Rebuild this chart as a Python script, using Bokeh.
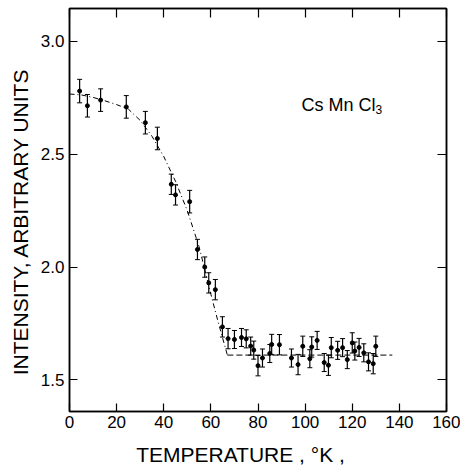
from bokeh.plotting import figure
from bokeh.models import (ColumnDataSource, Whisker, TeeHead, LinearAxis,
                          FixedTicker, Label, Range1d)
from bokeh.embed import file_html
from bokeh.resources import INLINE

# ---- data ----
temperature = [4.3, 7.6, 13.2, 24.1, 32.2, 37.3, 43.2, 45.0, 51.0, 54.3,
               57.4, 59.1, 61.9, 64.9, 67.3, 70.0, 73.0, 75.0, 76.9, 78.2,
               80.0, 81.9, 85.0, 85.8, 89.1, 94.2, 97.0, 99.0, 102.0, 102.8,
               105.1, 108.1, 109.9, 111.1, 113.8, 115.9, 117.9, 120.0, 121.1,
               122.9, 124.9, 126.9, 128.9, 130.0]
intensity = [2.78, 2.715, 2.74, 2.71, 2.64, 2.57, 2.367, 2.32, 2.29, 2.078,
             2.0, 1.93, 1.90, 1.735, 1.683, 1.679, 1.688, 1.682, 1.65, 1.632,
             1.563, 1.597, 1.617, 1.657, 1.656, 1.597, 1.568, 1.649, 1.594, 1.646,
             1.675, 1.577, 1.565, 1.643, 1.631, 1.643, 1.59, 1.664, 1.628,
             1.644, 1.62, 1.58, 1.572, 1.649]
error = [0.052, 0.05, 0.05, 0.05, 0.05, 0.05, 0.045, 0.045, 0.05, 0.045,
         0.045, 0.045, 0.045, 0.045, 0.045, 0.04, 0.04, 0.04, 0.04, 0.04,
         0.045, 0.04, 0.04, 0.045, 0.045, 0.04, 0.045, 0.045, 0.04, 0.045,
         0.04, 0.04, 0.045, 0.045, 0.04, 0.04, 0.04, 0.045, 0.04,
         0.04, 0.04, 0.04, 0.045, 0.045]

fit_T = [0, 5, 10, 15, 20, 25, 30, 35, 40, 45, 50, 55, 60, 63, 67]
fit_I = [2.767, 2.763, 2.752, 2.737, 2.72, 2.70, 2.65, 2.58, 2.49, 2.38,
         2.25, 2.09, 1.88, 1.76, 1.61]
flat_T = [67, 137]
flat_I = [1.61, 1.61]

x_ticks = [0, 20, 40, 60, 80, 100, 120, 140, 160]
y_ticks = [1.5, 2.0, 2.5, 3.0]
y_tick_labels = ["1.5", "2.0", "2.5", "3.0"]

label_font = "Liberation Sans"
NB = "\u00a0"

p = figure(width=460, height=470, x_range=Range1d(0, 160),
           y_range=Range1d(1.36, 3.146), output_backend="svg",
           toolbar_location=None, min_border_left=69, min_border_right=14,
           min_border_top=8, min_border_bottom=59)

p.xgrid.visible = False
p.ygrid.visible = False
p.outline_line_color = "black"
p.outline_line_width = 1.5

for ax in (p.xaxis[0], p.yaxis[0]):
    ax.major_tick_in = 8
    ax.major_tick_out = 0
    ax.minor_tick_line_color = None
    ax.axis_line_width = 1.5
    ax.major_tick_line_width = 1.2
    ax.major_label_text_font = label_font
    ax.major_label_text_font_size = "17px"
    ax.major_label_text_color = "black"
    ax.axis_label_text_font = label_font
    ax.axis_label_text_font_size = "21px"
    ax.axis_label_text_font_style = "normal"
    ax.axis_label_text_color = "black"

p.xaxis.ticker = FixedTicker(ticks=x_ticks)
p.yaxis.ticker = FixedTicker(ticks=y_ticks)
p.yaxis.major_label_overrides = dict(zip(y_ticks, y_tick_labels))
p.xaxis.axis_label = "TEMPERATURE , \u00b0K ," + NB * 6
p.yaxis.axis_label = "INTENSITY, ARBITRARY UNITS" + NB * 4
p.xaxis.major_label_standoff = 4
p.xaxis.axis_label_standoff = 12
p.yaxis.major_label_standoff = 5
p.yaxis.axis_label_standoff = 6

top = LinearAxis(ticker=FixedTicker(ticks=x_ticks), major_tick_in=9,
                 major_tick_out=0, minor_tick_line_color=None,
                 major_label_overrides={t: "" for t in x_ticks},
                 major_label_text_font_size="1px", major_label_standoff=0,
                 axis_line_width=1.5, major_tick_line_width=1.2)
right = LinearAxis(ticker=FixedTicker(ticks=y_ticks), major_tick_in=9,
                   major_tick_out=0, minor_tick_line_color=None,
                   major_label_overrides={t: "" for t in y_ticks},
                   major_label_text_font_size="1px", major_label_standoff=0,
                   axis_line_width=1.5, major_tick_line_width=1.2)
p.add_layout(top, "above")
p.add_layout(right, "right")

src = ColumnDataSource(dict(
    T=temperature, I=intensity,
    upper=[i + e for i, e in zip(intensity, error)],
    lower=[i - e for i, e in zip(intensity, error)],
))

p.line(fit_T, fit_I, line_color="black", line_width=1, line_dash="5 3 1 3")
p.line(flat_T, flat_I, line_color="black", line_width=1, line_dash="6 3")

p.add_layout(Whisker(source=src, base="T", upper="upper", lower="lower",
                     line_color="black", line_width=1.2,
                     upper_head=TeeHead(size=5, line_color="black", line_width=1),
                     lower_head=TeeHead(size=5, line_color="black", line_width=1)))
p.scatter("T", "I", source=src, size=4, color="black")

p.add_layout(Label(x=98.5, y=2.718, text="Cs Mn Cl", text_font=label_font,
                   text_font_size="18px", text_color="black",
                   text_baseline="alphabetic"))
p.add_layout(Label(x=98.5, y=2.718, x_offset=74, y_offset=-4, text="3",
                   text_font=label_font, text_font_size="12px",
                   text_color="black", text_baseline="alphabetic"))

open("out.html", "w").write(file_html(p, INLINE))
